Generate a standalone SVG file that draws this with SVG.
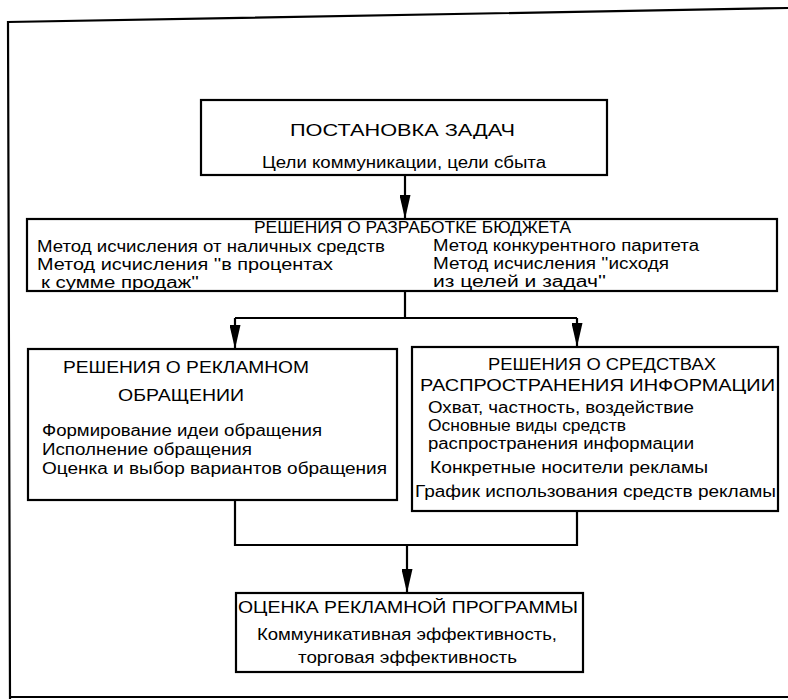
<svg xmlns="http://www.w3.org/2000/svg" width="788" height="700" viewBox="0 0 788 700">
<defs>
<marker id="arr" viewBox="0 0 24 11" refX="24" refY="5.5" markerWidth="24" markerHeight="11" markerUnits="userSpaceOnUse" orient="auto">
<path d="M0,0 L24,5.5 L0,11 Z" fill="#000"/>
</marker>
<style>
.box{fill:#fff;stroke:#000;stroke-width:2.2}
.ln{fill:none;stroke:#000;stroke-width:2.2}
.t{font-family:"Liberation Sans","DejaVu Sans",sans-serif;font-size:16px;fill:#000}
.h{font-family:"Liberation Sans","DejaVu Sans",sans-serif;font-size:17px;fill:#000}
</style>
</defs>
<rect width="788" height="700" fill="#fff"/>
<g id="frame">
<path class="ln" d="M10,699 L8,22 L788,8" stroke-width="2.6"/>
<path class="ln" d="M10,697 L788,697" stroke-width="2"/>
</g>
<g id="connectors">
<path class="ln" d="M405,175 L405,219" marker-end="url(#arr)"/>
<path class="ln" d="M405,291 L405,318 M235,318 L577,318"/>
<path class="ln" d="M235,318 L235,349" marker-end="url(#arr)"/>
<path class="ln" d="M577,318 L577,347" marker-end="url(#arr)"/>
<path class="ln" d="M235,500 L235,545 L577,545 L577,511"/>
<path class="ln" d="M407,545 L407,593" marker-end="url(#arr)"/>
</g>
<g id="n1">
<rect class="box" x="201" y="100" width="406" height="75"/>
<text class="h" x="290" y="136" textLength="225" lengthAdjust="spacingAndGlyphs">ПОСТАНОВКА ЗАДАЧ</text>
<text class="t" x="262" y="168" textLength="284" lengthAdjust="spacingAndGlyphs">Цели коммуникации, цели сбыта</text>
</g>
<g id="n2">
<rect class="box" x="27" y="219" width="750" height="72"/>
<text class="h" x="254" y="233" textLength="317" lengthAdjust="spacingAndGlyphs">РЕШЕНИЯ О РАЗРАБОТКЕ БЮДЖЕТА</text>
<text class="t" x="37" y="252" textLength="348" lengthAdjust="spacingAndGlyphs">Метод исчисления от наличных средств</text>
<text class="t" x="37" y="270" textLength="296" lengthAdjust="spacingAndGlyphs">Метод исчисления ''в процентах</text>
<text class="t" x="41" y="288" textLength="158" lengthAdjust="spacingAndGlyphs">к сумме продаж''</text>
<text class="t" x="433" y="251" textLength="266" lengthAdjust="spacingAndGlyphs">Метод конкурентного паритета</text>
<text class="t" x="433" y="269" textLength="236" lengthAdjust="spacingAndGlyphs">Метод исчисления ''исходя</text>
<text class="t" x="433" y="287" textLength="173" lengthAdjust="spacingAndGlyphs">из целей и задач''</text>
</g>
<g id="n3">
<rect class="box" x="28" y="349" width="369" height="151"/>
<text class="h" x="63" y="373" textLength="246" lengthAdjust="spacingAndGlyphs">РЕШЕНИЯ О РЕКЛАМНОМ</text>
<text class="h" x="118" y="401" textLength="126" lengthAdjust="spacingAndGlyphs">ОБРАЩЕНИИ</text>
<text class="t" x="42" y="436" textLength="280" lengthAdjust="spacingAndGlyphs">Формирование идеи обращения</text>
<text class="t" x="42" y="455" textLength="210" lengthAdjust="spacingAndGlyphs">Исполнение обращения</text>
<text class="t" x="42" y="474" textLength="345" lengthAdjust="spacingAndGlyphs">Оценка и выбор вариантов обращения</text>
</g>
<g id="n4">
<rect class="box" x="412" y="347" width="366" height="164"/>
<text class="h" x="488" y="370" textLength="228" lengthAdjust="spacingAndGlyphs">РЕШЕНИЯ О СРЕДСТВАХ</text>
<text class="h" x="420" y="391" textLength="355" lengthAdjust="spacingAndGlyphs">РАСПРОСТРАНЕНИЯ ИНФОРМАЦИИ</text>
<text class="t" x="428" y="413" textLength="266" lengthAdjust="spacingAndGlyphs">Охват, частность, воздействие</text>
<text class="t" x="428" y="431" textLength="198" lengthAdjust="spacingAndGlyphs">Основные виды средств</text>
<text class="t" x="428" y="449" textLength="266" lengthAdjust="spacingAndGlyphs">распространения информации</text>
<text class="t" x="430" y="473" textLength="278" lengthAdjust="spacingAndGlyphs">Конкретные носители рекламы</text>
<text class="t" x="415" y="497" textLength="361" lengthAdjust="spacingAndGlyphs">График использования средств рекламы</text>
</g>
<g id="n5">
<rect class="box" x="236" y="593" width="347" height="79"/>
<text class="h" x="238" y="613" textLength="340" lengthAdjust="spacingAndGlyphs">ОЦЕНКА РЕКЛАМНОЙ ПРОГРАММЫ</text>
<text class="t" x="257" y="640" textLength="300" lengthAdjust="spacingAndGlyphs">Коммуникативная эффективность,</text>
<text class="t" x="298" y="663" textLength="219" lengthAdjust="spacingAndGlyphs">торговая эффективность</text>
</g>
</svg>
